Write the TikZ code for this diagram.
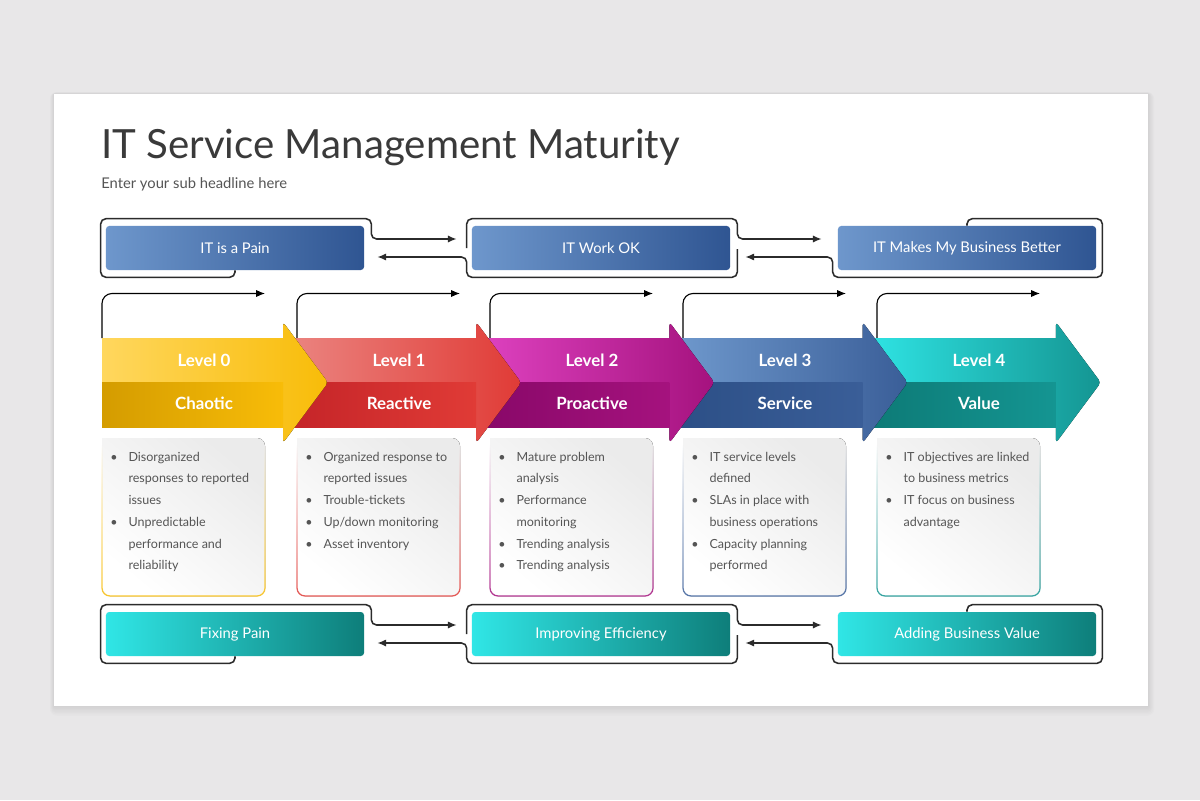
\documentclass[tikz,border=0pt]{standalone}
\usepackage{fontspec}
\setmainfont{Lato}
\usetikzlibrary{arrows.meta,calc,fadings}

\tikzfading[name=fadeup, top color=transparent!100, bottom color=transparent!0]

\begin{document}
\begin{tikzpicture}[x=0.025cm, y=-0.025cm,
  frame/.style={draw=frameline, line width=1.1pt, rounded corners=1.3mm},
  tip/.style={-{Latex[length=2.2mm,width=1.8mm]}},
  stage/.style={rounded corners=0.8mm, minimum width=6.45cm, minimum height=1.1cm, inner sep=0pt,
    text=white, font=\fontsize{10.5}{12}\selectfont},
  lvltext/.style={text=white, font=\bfseries\fontsize{12}{14}\selectfont},
  bullets/.style={anchor=base west, inner sep=0pt, text=textgray, font=\fontsize{8.9}{15.5}\selectfont}]

\definecolor{bggray}{HTML}{E8E7E8};
\definecolor{titlegray}{HTML}{3A3A3A};
\definecolor{textgray}{HTML}{555555};
\definecolor{frameline}{HTML}{2B2B2B};
\definecolor{boxL}{HTML}{6E97CC};
\definecolor{boxD}{HTML}{2F5592};
\definecolor{tboxL}{HTML}{30E6E6};
\definecolor{tboxD}{HTML}{0E7E7A};
\definecolor{yellowL}{HTML}{FFD75E};
\definecolor{yellowM}{HTML}{F8BC08};
\definecolor{yellowD}{HTML}{D49C00};
\definecolor{redL}{HTML}{EB8581};
\definecolor{redM}{HTML}{E03B36};
\definecolor{redD}{HTML}{C42428};
\definecolor{purpleL}{HTML}{DE42C0};
\definecolor{purpleM}{HTML}{A5127E};
\definecolor{purpleD}{HTML}{880868};
\definecolor{blueL}{HTML}{6F99CD};
\definecolor{blueM}{HTML}{3A5E98};
\definecolor{blueD}{HTML}{2C4F86};
\definecolor{tealL}{HTML}{2FE4E4};
\definecolor{tealM}{HTML}{149592};
\definecolor{tealD}{HTML}{0D7A76};

\useasboundingbox (0,0) rectangle (1200,800);
\fill[bggray] (0,0) rectangle (1200,800);
\foreach \k in {1,...,7}
  \fill[black, opacity=0.012, rounded corners=\k*0.25mm] (54-\k*0.6,94-\k*0.3) rectangle (1148+\k*0.9,706+\k*1.4);
\fill[white] (54,94) rectangle (1148,706);

\node[anchor=base west, inner sep=0pt, text=titlegray, font=\fontsize{28.6}{34}\selectfont] (title) at (101,159) {IT Service Management Maturity};
\node[anchor=base west, inner sep=0pt, text=textgray, font=\fontsize{10.5}{12}\selectfont] (subtitle) at (101,189) {Enter your sub headline here};

% stage boxes with their frames
\foreach \row/\y/\cl/\ta/\tb/\tc in {top/248/box/IT is a Pain/IT Work OK/IT Makes My Business Better,
                                     bot/634/tbox/Fixing Pain/Improving Efficiency/Adding Business Value}{
  \node[stage, left color=\cl L, right color=\cl D] (\row1) at (235,\y) {\ta};
  \node[stage, left color=\cl L, right color=\cl D] (\row2) at (601,\y) {\tb};
  \node[stage, left color=\cl L, right color=\cl D] (\row3) at (967,\y) {\tc};

  \draw[frame,tip] (\row1.south) -- ++(0,7) -| ($(\row1.west)+(-5,0)$) |- ($(\row1.north east)+(7,-7)$) |- ($(\row2.west)+(-15,-9)$);
  \draw[frame,tip] ($(\row2.west)+(-5,0)$) |- ($(\row2.north east)+(7,-7)$) |- ($(\row3.west)+(-16,-9)$);
  \draw[frame,tip] ($(\row2.east)+(7,1)$) |- ($(\row2.south west)+(-5,7)$) |- ($(\row1.east)+(13,9)$);
  \draw[frame,tip] (\row3.north) -- ++(0,-7) -| ($(\row3.south east)+(6,7)$) -| ($(\row3.west)+(-5,9)$) -- ($(\row2.east)+(15,9)$);
}

% text cards
\foreach \i/\xs/\cl in {0/102/yellow,1/297/red,2/490/purple,3/683/blue,4/877/teal}{
  \fill[top color=black!8, bottom color=white, shading angle=-40] (\xs,438) [rounded corners=2mm] -- (\xs,596) -- (\xs+163,596) -- (\xs+163,438) [sharp corners] -- cycle;
  \draw[\cl M!85, line width=0.9pt, path fading=fadeup, rounded corners=2mm] (\xs,445) -- (\xs,596) -- (\xs+163,596) -- (\xs+163,445);
  \coordinate (up\i) at (\xs,338);
  \coordinate (to\i) at (\xs+163,293.5);
  \draw[tip, line width=0.8pt, rounded corners=2.5mm] (up\i) |- (to\i);
}

\foreach \i/\xs/\cl/\nm in {4/877/teal/Value,3/683/blue/Service,2/490/purple/Proactive,1/297/red/Reactive,0/102/yellow/Chaotic}{
  \pgfmathsetmacro{\tx}{328+193.2*\i}
  \pgfmathsetmacro{\hb}{\tx-45}
  \pgfmathsetmacro{\bl}{ifthenelse(\i==0,102,\xs-10)}
  \fill[left color=\cl L, right color=\cl M] (\bl,338) -- (\hb,338) [rounded corners=0.9mm] -- (\hb,322) -- (\tx,382.5) -- (\hb,443) [sharp corners] -- (\hb,427) -- (\bl,427) -- cycle;
  \fill[left color=\cl D, right color=\cl M] (\bl,382.5) rectangle (\hb,427);
  \node[lvltext] (lvl\i) at (\xs+102,360) {Level \i};
  \node[lvltext] (nm\i) at (\xs+102,403) {\nm};
}

\node[bullets] (list0) at (110,461) {\begin{tabular}[t]{@{}p{13pt}@{}l@{}}
\textbullet & Disorganized\\ & responses to reported\\ & issues\\
\textbullet & Unpredictable\\ & performance and\\ & reliability
\end{tabular}};
\node[bullets] (list1) at (305,461) {\begin{tabular}[t]{@{}p{13pt}@{}l@{}}
\textbullet & Organized response to\\ & reported issues\\
\textbullet & Trouble-tickets\\
\textbullet & Up/down monitoring\\
\textbullet & Asset inventory
\end{tabular}};
\node[bullets] (list2) at (498,461) {\begin{tabular}[t]{@{}p{13pt}@{}l@{}}
\textbullet & Mature problem\\ & analysis\\
\textbullet & Performance\\ & monitoring\\
\textbullet & Trending analysis\\
\textbullet & Trending analysis
\end{tabular}};
\node[bullets] (list3) at (691,461) {\begin{tabular}[t]{@{}p{13pt}@{}l@{}}
\textbullet & IT service levels\\ & defined\\
\textbullet & SLAs in place with\\ & business operations\\
\textbullet & Capacity planning\\ & performed
\end{tabular}};
\node[bullets] (list4) at (885,461) {\begin{tabular}[t]{@{}p{13pt}@{}l@{}}
\textbullet & IT objectives are linked\\ & to business metrics\\
\textbullet & IT focus on business\\ & advantage
\end{tabular}};
\end{tikzpicture}
\end{document}
